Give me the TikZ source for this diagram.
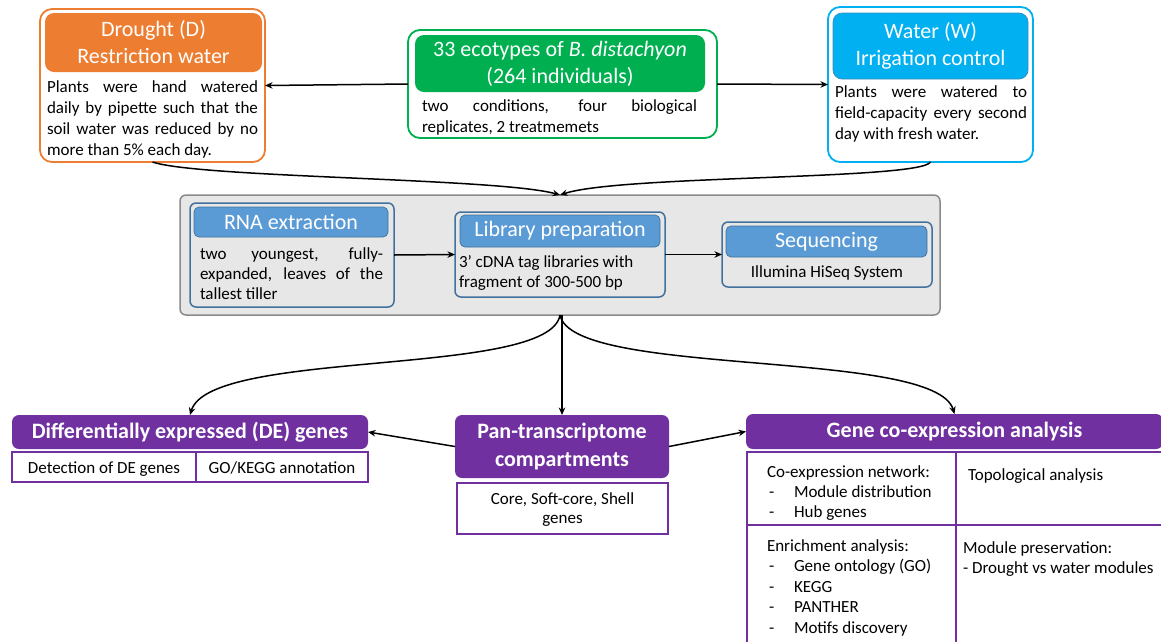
\documentclass[tikz,border=0pt]{standalone}
\usepackage{fontspec}
\setmainfont{Carlito}
\usetikzlibrary{arrows.meta}

\definecolor{dorange}{HTML}{ED7D31}
\definecolor{dgreen}{HTML}{00B050}
\definecolor{dblue}{HTML}{00B0F0}
\definecolor{dblueline}{HTML}{3C8DBC}
\definecolor{stepfill}{HTML}{E7E7E7}
\definecolor{stepline}{HTML}{8A8A8A}
\definecolor{inhead}{HTML}{5B9BD5}
\definecolor{inline}{HTML}{41719C}
\definecolor{dpurple}{HTML}{7030A0}

% a justified line of given width, and a strut fixing the first baseline
\newcommand{\jrow}[2]{\makebox[#1][s]{#2}}
\newcommand{\firstrow}{\rule{0pt}{13pt}}
\newcommand{\dashitem}[1]{\makebox[27pt][l]{\hspace{2pt}-}#1}

\begin{document}
\begin{tikzpicture}[x=1pt,y=-1pt,
  box/.style={rectangle, inner sep=0pt, outer sep=0pt},
  condbox/.style={box, line width=1.8pt, fill=white, rounded corners=12pt},
  condhead/.style={box, rounded corners=9pt, text=white, align=center,
                   font=\fontsize{22}{27}\selectfont},
  bodytext/.style={inner sep=0pt, outer sep=0pt, anchor=north west, align=left,
                   font=\fontsize{17}{21}\selectfont},
  onetext/.style={inner sep=0pt, outer sep=0pt, anchor=base,
                  font=\fontsize{17}{21}\selectfont},
  stagebox/.style={box, fill=stepfill, draw=inline, line width=1.5pt, rounded corners=6pt},
  stagehead/.style={box, fill=inhead, draw=inline, line width=0.7pt, rounded corners=5pt,
                    text=white, font=\fontsize{22}{26}\selectfont},
  resulthead/.style={box, fill=dpurple, rounded corners=7pt, text=white, align=center,
                     font=\fontsize{22}{28}\selectfont\bfseries},
  cell/.style={box, draw=dpurple, line width=1.5pt},
  arr/.style={-{Stealth[length=7.5pt,width=6.5pt]}, line width=1.5pt}]

\useasboundingbox (0,0) rectangle (1161,641);
\fill[white] (0,0) rectangle (1161,641);
\clip (0,0) rectangle (1161,641);

% ---------- experimental conditions ----------
\node[condbox, draw=dorange, minimum width=225, minimum height=153] (drought) at (152.5,85.5) {};
\node[condhead, fill=dorange, minimum width=217, minimum height=59] (dhead) at (153.5,42.5)
  {Drought (D)\\Restriction water};
\node[bodytext] (dtext) at (47,79)
  {\firstrow\jrow{211pt}{Plants were hand watered}\\
   \jrow{211pt}{daily by pipette such that the}\\
   \jrow{211pt}{soil water was reduced by no}\\
   more than 5\% each day.};

\node[condbox, draw=dgreen, minimum width=309, minimum height=108] (plants) at (562.5,84) {};
\node[condhead, fill=dgreen, minimum width=290, minimum height=57] (phead) at (560,63.5)
  {33 ecotypes of \textit{B. distachyon}\\(264 individuals)};
\node[bodytext] (ptext) at (422,98)
  {\firstrow\jrow{275pt}{two conditions, four biological}\\
   replicates, 2 treatmemets};

\node[condbox, draw=dblue, minimum width=205, minimum height=155] (water) at (930.5,84.5) {};
\node[condhead, fill=dblue, draw=dblueline, line width=0.7pt, minimum width=195, minimum height=66]
  (whead) at (930.5,46) {Water (W)\\Irrigation control};
\node[bodytext] (wtext) at (835,84)
  {\firstrow\jrow{192pt}{Plants were watered to}\\
   \jrow{192pt}{field-capacity every second}\\
   day with fresh water.};

\draw[arr] (plants.west) -- (drought.east);
\draw[arr] (plants.east) -- (water.west);

% ---------- sequencing pipeline ----------
\node[box, fill=stepfill, draw=stepline, line width=1.5pt, rounded corners=6pt,
      minimum width=760, minimum height=120] (grey) at (560,255) {};

\node[stagebox, minimum width=204, minimum height=104] (rna) at (292,255) {};
\node[stagehead, minimum width=194, minimum height=30] (rnahead) at (291,222) {RNA extraction};
\node[bodytext, font=\fontsize{17}{20}\selectfont] (rnatext) at (200,246)
  {\firstrow\jrow{183pt}{two youngest, fully-}\\
   \jrow{183pt}{expanded, leaves of the}\\
   tallest tiller};

\node[stagebox, minimum width=210, minimum height=85] (lib) at (560,254.5) {};
\node[stagehead, minimum width=200, minimum height=32] (libhead) at (560,231) {Library preparation};
\node[bodytext, font=\fontsize{17}{20}\selectfont] (libtext) at (459,254)
  {\firstrow 3’ cDNA tag libraries with\\fragment of 300-500 bp};

\node[stagebox, minimum width=210, minimum height=65] (seq) at (827,254.5) {};
\node[stagehead, minimum width=201, minimum height=31] (seqhead) at (826.5,241.5) {Sequencing};
\node[onetext] (seqtext) at (827,277) {Illumina HiSeq System};

\draw[arr] (rna.east) -- (lib.west);
\draw[arr] (lib.east) -- (seq.west);

\draw[arr] (drought.south) .. controls (200,178) and (500,178) .. (grey.north);
\draw[arr] (water.south) .. controls (920,180) and (620,175) .. (grey.north);

% ---------- analyses ----------
\node[resulthead, minimum width=356, minimum height=34] (de) at (190,432)
  {Differentially expressed (DE) genes};
\node[cell, minimum width=184, minimum height=30] (decell1) at (104,467) {};
\node[cell, minimum width=172, minimum height=30] (decell2) at (282,467) {};
\node[onetext] (detext1) at (104,473) {Detection of DE genes};
\node[onetext] (detext2) at (282,473) {GO/KEGG annotation};

\node[resulthead, minimum width=214, minimum height=63] (pan) at (562,446.5)
  {Pan-transcriptome\\compartments};
\node[cell, minimum width=211, minimum height=51] (pancell) at (562.5,508.5) {};
\node[bodytext, anchor=north, align=center, font=\fontsize{17}{19.5}\selectfont]
  (pantext) at (562.5,491) {\firstrow Core, Soft-core, Shell\\genes};

\node[resulthead, minimum width=417, minimum height=35] (gene) at (954.5,431.5)
  {Gene co-expression analysis};
\node[cell, anchor=north west, minimum width=209, minimum height=73] (gcell1) at (747,452) {};
\node[cell, anchor=north west, minimum width=220, minimum height=73] (gcell2) at (956,452) {};
\node[cell, anchor=north west, minimum width=209, minimum height=130] (gcell3) at (747,525) {};
\node[cell, anchor=north west, minimum width=220, minimum height=130] (gcell4) at (956,525) {};

\node[bodytext, font=\fontsize{17}{20}\selectfont] (gtext1) at (767,464)
  {\firstrow Co-expression network:\\
   \dashitem{Module distribution}\\
   \dashitem{Hub genes}};
\node[onetext, anchor=base west] (gtext2) at (968,480) {Topological analysis};
\node[bodytext, font=\fontsize{17}{20.5}\selectfont] (gtext3) at (767,538)
  {\firstrow Enrichment analysis:\\
   \dashitem{Gene ontology (GO)}\\
   \dashitem{KEGG}\\
   \dashitem{PANTHER}\\
   \dashitem{Motifs discovery}};
\node[bodytext, font=\fontsize{17}{20}\selectfont] (gtext4) at (963,540)
  {\firstrow Module preservation:\\- Drought vs water modules};

\draw[arr] (pan.west) -- (de.east);
\draw[arr] (pan.east) -- (gene.west);

\draw[arr] (grey.south) .. controls (550,378) and (210,348) .. (de.north);
\draw[arr] (pan.north |- grey.south) -- (pan.north);
\draw[arr] (grey.south) .. controls (572,378) and (935,348) .. (gene.north);

\end{tikzpicture}
\end{document}
